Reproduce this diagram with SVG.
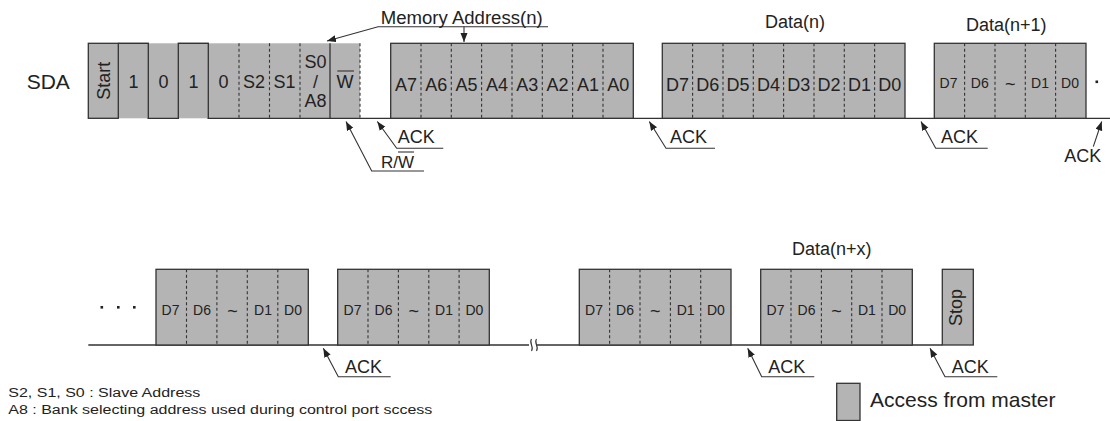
<svg xmlns="http://www.w3.org/2000/svg" width="1110" height="421" viewBox="0 0 1110 421">
<style>
text{font-family:"Liberation Sans",Arial,sans-serif;fill:#222}
.lbl{font-size:18px}
.sm{font-size:14px}
.mid{text-anchor:middle}
.box{fill:#b4b4b4;stroke:#333;stroke-width:1.3}
.fill{fill:#b4b4b4;stroke:none}
.wire{fill:none;stroke:#333;stroke-width:1.3}
.dash{stroke:#333;stroke-width:1.1;stroke-dasharray:3 2.5}
.ln{fill:none;stroke:#333;stroke-width:1.1}
.arr{fill:none;stroke:#333;stroke-width:1.1;marker-end:url(#ah)}
</style>
<defs>
<marker id="ah" markerUnits="userSpaceOnUse" markerWidth="10" markerHeight="8" refX="9" refY="3.5" orient="auto">
<path d="M0,0 L9,3.5 L0,7 z" fill="#222"/>
</marker>
</defs>

<text x="26.7" y="89.3" style="font-size:21px">SDA</text>

<g id="connectors">
  <path class="wire" d="M118.3,43.3 H148.3 V118.3 H178.3 V43.3 H208.3 V118.3 H1110"/>
  <path class="wire" d="M88.3,345 H529 M537,345 H942.3"/>
  <path class="ln" d="M531.5,339 C528.5,343 534.5,347 531.5,351 M536.5,339 C533.5,343 539.5,347 536.5,351"/>
  <path class="arr" d="M548,26.7 H378 L327,41"/>
  <path class="arr" d="M464,26.7 V42"/>
  <path class="arr" d="M424,171 H371.7 L346,121.5"/>
  <path class="arr" d="M443.3,148.3 H396.7 L377.3,121.5"/>
  <path class="arr" d="M715,148.3 H666 L649.3,121.5"/>
  <path class="arr" d="M987.7,148.3 H935.7 L921,121.5"/>
  <path class="arr" d="M1093.3,146.7 L1101.7,121.5"/>
  <path class="arr" d="M390.7,376.7 H338.3 L323.3,348.3"/>
  <path class="arr" d="M814.3,376.7 H761.7 L747.7,348.3"/>
  <path class="arr" d="M997.3,376.7 H945 L930,348.3"/>
</g>

<g id="labels">
  <text x="380.7" y="24" class="lbl" textLength="162" lengthAdjust="spacingAndGlyphs">Memory Address(n)</text>
  <text x="765" y="28" class="lbl">Data(n)</text>
  <text x="966" y="30.5" class="lbl">Data(n+1)</text>
  <text x="792" y="254.5" class="lbl">Data(n+x)</text>
  <text x="381" y="168.3" style="font-size:17px">R/W</text>
  <line class="ln" x1="398" y1="152" x2="414" y2="152"/>
  <text x="397.7" y="143.3" class="lbl">ACK</text>
  <text x="670" y="143.3" class="lbl">ACK</text>
  <text x="941" y="143.3" class="lbl">ACK</text>
  <text x="1064.3" y="161.7" class="lbl">ACK</text>
  <text x="345" y="372.7" class="lbl">ACK</text>
  <text x="768.3" y="372.7" class="lbl">ACK</text>
  <text x="951.7" y="372.7" class="lbl">ACK</text>
</g>

<g id="node-slave">
  <rect class="fill" x="88.3" y="43.3" width="271.7" height="75"/>
  <path class="wire" d="M118.3,43.3 H148.3 V118.3 H178.3 V43.3 H208.3 V118.3 H360"/>
  <rect class="box" style="fill:none" x="88.3" y="43.3" width="30" height="75"/>
  <line class="wire" x1="330" y1="43.3" x2="330" y2="118.3"/>
  <line class="dash" x1="239" y1="43.3" x2="239" y2="118.3"/>
  <line class="dash" x1="269.5" y1="43.3" x2="269.5" y2="118.3"/>
  <line class="dash" x1="300" y1="43.3" x2="300" y2="118.3"/>
  <line class="dash" x1="360" y1="43.3" x2="360" y2="118.3"/>
  <text transform="translate(110,80.8) rotate(-90)" text-anchor="middle" font-family="Liberation Sans, Arial, sans-serif" font-size="18">Start</text>
  <g class="lbl mid">
    <text x="133.5" y="87.5">1</text>
    <text x="163.5" y="87.5">0</text>
    <text x="193.5" y="87.5">1</text>
    <text x="223.5" y="87.5">0</text>
    <text x="254" y="87.5">S2</text>
    <text x="284.5" y="87.5">S1</text>
    <text x="315.5" y="68.3">S0</text>
    <text x="315.5" y="87.5">/</text>
    <text x="315.5" y="106.7">A8</text>
    <text x="345" y="87.5">W</text>
  </g>
  <line class="ln" x1="337.3" y1="71" x2="354" y2="71"/>
</g>

<g id="node-address">
  <rect class="box" x="390.7" y="43.3" width="242.6" height="75"/>
  <g class="dash">
    <line x1="421" y1="43.3" x2="421" y2="118.3"/>
    <line x1="451.3" y1="43.3" x2="451.3" y2="118.3"/>
    <line x1="481.6" y1="43.3" x2="481.6" y2="118.3"/>
    <line x1="512" y1="43.3" x2="512" y2="118.3"/>
    <line x1="542.3" y1="43.3" x2="542.3" y2="118.3"/>
    <line x1="572.6" y1="43.3" x2="572.6" y2="118.3"/>
    <line x1="603" y1="43.3" x2="603" y2="118.3"/>
  </g>
  <g class="lbl mid">
    <text x="405.9" y="90.5">A7</text>
    <text x="436.2" y="90.5">A6</text>
    <text x="466.5" y="90.5">A5</text>
    <text x="496.9" y="90.5">A4</text>
    <text x="527.2" y="90.5">A3</text>
    <text x="557.5" y="90.5">A2</text>
    <text x="587.9" y="90.5">A1</text>
    <text x="618.2" y="90.5">A0</text>
  </g>
</g>

<g id="node-data-n">
  <rect class="box" x="662.3" y="43.3" width="242.7" height="75"/>
  <g class="dash">
    <line x1="692.6" y1="43.3" x2="692.6" y2="118.3"/>
    <line x1="723" y1="43.3" x2="723" y2="118.3"/>
    <line x1="753.3" y1="43.3" x2="753.3" y2="118.3"/>
    <line x1="783.6" y1="43.3" x2="783.6" y2="118.3"/>
    <line x1="814" y1="43.3" x2="814" y2="118.3"/>
    <line x1="844.3" y1="43.3" x2="844.3" y2="118.3"/>
    <line x1="874.6" y1="43.3" x2="874.6" y2="118.3"/>
  </g>
  <g class="lbl mid">
    <text x="677.5" y="90.5">D7</text>
    <text x="707.8" y="90.5">D6</text>
    <text x="738.1" y="90.5">D5</text>
    <text x="768.5" y="90.5">D4</text>
    <text x="798.8" y="90.5">D3</text>
    <text x="829.1" y="90.5">D2</text>
    <text x="859.5" y="90.5">D1</text>
    <text x="889.8" y="90.5">D0</text>
  </g>
</g>

<g id="node-data-n1">
  <rect class="box" x="934.3" y="43.3" width="151.7" height="75"/>
  <g class="dash">
    <line x1="964.6" y1="43.3" x2="964.6" y2="118.3"/>
    <line x1="995" y1="43.3" x2="995" y2="118.3"/>
    <line x1="1025.3" y1="43.3" x2="1025.3" y2="118.3"/>
    <line x1="1055.6" y1="43.3" x2="1055.6" y2="118.3"/>
  </g>
  <g class="sm mid">
    <text x="948.5" y="88">D7</text>
    <text x="979.8" y="88">D6</text>
    <text x="1010.2" y="90" style="font-size:18px">~</text>
    <text x="1040" y="88">D1</text>
    <text x="1070" y="88">D0</text>
  </g>
  <rect x="1095.5" y="80.5" width="2.6" height="2.6" fill="#222"/>
</g>

<g id="node-ellipsis">
  <rect x="100.5" y="306" width="2.6" height="2.6" fill="#222"/>
  <rect x="117" y="306" width="2.6" height="2.6" fill="#222"/>
  <rect x="133" y="306" width="2.6" height="2.6" fill="#222"/>
</g>

<g id="node-b1">
  <rect class="box" x="156" y="269.3" width="152.3" height="75.7"/>
  <g class="dash">
    <line x1="186.5" y1="269.3" x2="186.5" y2="345"/>
    <line x1="216.9" y1="269.3" x2="216.9" y2="345"/>
    <line x1="247.3" y1="269.3" x2="247.3" y2="345"/>
    <line x1="277.8" y1="269.3" x2="277.8" y2="345"/>
  </g>
  <g class="sm mid">
    <text x="170.5" y="315">D7</text>
    <text x="202" y="315">D6</text>
    <text x="232.5" y="317" style="font-size:18px">~</text>
    <text x="263" y="315">D1</text>
    <text x="293" y="315">D0</text>
  </g>
</g>

<g id="node-b2">
  <rect class="box" x="337.7" y="269.3" width="151.6" height="75.7"/>
  <g class="dash">
    <line x1="368" y1="269.3" x2="368" y2="345"/>
    <line x1="398.4" y1="269.3" x2="398.4" y2="345"/>
    <line x1="428.8" y1="269.3" x2="428.8" y2="345"/>
    <line x1="459.1" y1="269.3" x2="459.1" y2="345"/>
  </g>
  <g class="sm mid">
    <text x="352.5" y="315">D7</text>
    <text x="383.5" y="315">D6</text>
    <text x="413.8" y="317" style="font-size:18px">~</text>
    <text x="444" y="315">D1</text>
    <text x="474.4" y="315">D0</text>
  </g>
</g>

<g id="node-b3">
  <rect class="box" x="579.3" y="269.3" width="151.7" height="75.7"/>
  <g class="dash">
    <line x1="609.6" y1="269.3" x2="609.6" y2="345"/>
    <line x1="640" y1="269.3" x2="640" y2="345"/>
    <line x1="670.4" y1="269.3" x2="670.4" y2="345"/>
    <line x1="700.7" y1="269.3" x2="700.7" y2="345"/>
  </g>
  <g class="sm mid">
    <text x="594" y="315">D7</text>
    <text x="625" y="315">D6</text>
    <text x="655.2" y="317" style="font-size:18px">~</text>
    <text x="685.6" y="315">D1</text>
    <text x="715.9" y="315">D0</text>
  </g>
</g>

<g id="node-b4">
  <rect class="box" x="760.7" y="269.3" width="151.6" height="75.7"/>
  <g class="dash">
    <line x1="791" y1="269.3" x2="791" y2="345"/>
    <line x1="821.4" y1="269.3" x2="821.4" y2="345"/>
    <line x1="851.7" y1="269.3" x2="851.7" y2="345"/>
    <line x1="882" y1="269.3" x2="882" y2="345"/>
  </g>
  <g class="sm mid">
    <text x="775.5" y="315">D7</text>
    <text x="806.5" y="315">D6</text>
    <text x="836.6" y="317" style="font-size:18px">~</text>
    <text x="866.9" y="315">D1</text>
    <text x="897.2" y="315">D0</text>
  </g>
</g>

<g id="node-stop">
  <rect class="box" x="942.3" y="269.3" width="31" height="75.7"/>
  <text transform="translate(962,307.5) rotate(-90)" text-anchor="middle" font-family="Liberation Sans, Arial, sans-serif" font-size="18">Stop</text>
</g>

<g id="legend">
  <rect class="box" x="836.7" y="383.3" width="23.3" height="37.2"/>
  <text x="870" y="406.7" style="font-size:21px">Access from master</text>
</g>

<g id="notes" style="font-size:12px">
  <text x="8.3" y="396.7" textLength="192" lengthAdjust="spacingAndGlyphs">S2, S1, S0 : Slave Address</text>
  <text x="8.3" y="414" textLength="424" lengthAdjust="spacingAndGlyphs">A8 : Bank selecting address used during control port sccess</text>
</g>
</svg>
